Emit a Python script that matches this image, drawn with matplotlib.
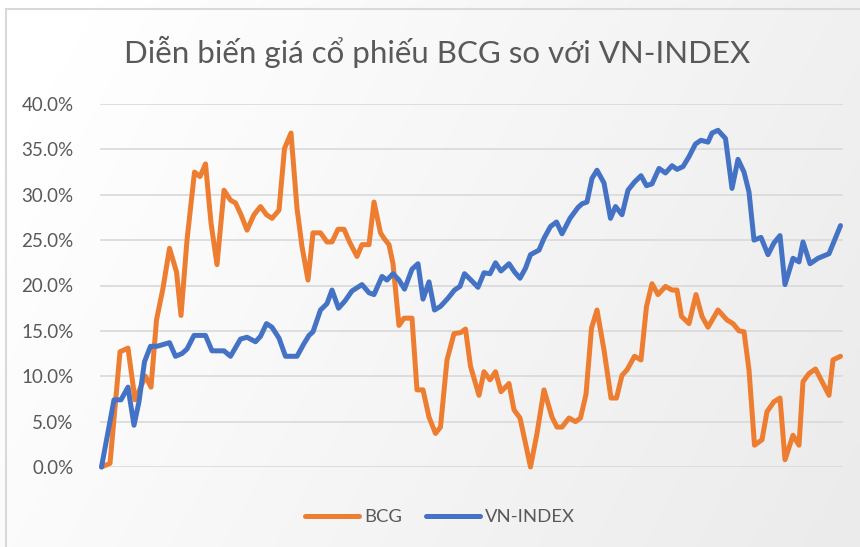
import numpy as np
import matplotlib
matplotlib.use('Agg')
import matplotlib.pyplot as plt
from matplotlib.ticker import PercentFormatter, MultipleLocator
from matplotlib.lines import Line2D

plt.rcParams['font.family'] = ['Lato', 'DejaVu Sans']

# week index vs. cumulative change (%)
bcg_week = [0, 1.7, 3.7, 5.3, 6.7, 8.8, 9.9, 11, 12.3, 13.6, 15, 15.9, 17.1, 18.6, 19.7,
            20.8, 21.9, 23.1, 24.5, 25.8, 26.8, 27.9, 29.1, 30.5, 31.8, 33, 34.1, 35.5,
            36.6, 37.9, 39.1, 40.1, 41.3, 42.3, 43.8, 45.1, 46.1, 47.3, 48.5, 49.6, 51.1,
            52.1, 53.5, 54.5, 55.8, 56.5, 57.5, 58.3, 59.5, 60.5, 62.1, 63.1, 64.3, 65.5,
            66.8, 67.8, 69.1, 70.5, 71.8, 72.8, 73.8, 75.5, 76.5, 77.7, 78.8, 79.9, 81.5,
            82.5, 83.7, 84.8, 85.8, 87.1, 88.5, 90.1, 91.1, 92.1, 93.5, 94.8, 95.8, 96.9,
            98.0, 99.1, 100.5, 101.9, 103, 104.1, 105.1, 106.6, 107.9, 109, 110.1, 111.3,
            112.8, 114.1, 115.1, 116, 117.5, 118.9, 120.1, 121.3, 123.3, 125.1, 126.3,
            127.5, 128.5, 129.5, 130.6, 132.1, 133.1, 134.5, 135.7, 136.7, 138.3, 139.5,
            140.3, 141.5, 142.8, 144.3, 145.5, 146.3, 147.8]
bcg_pct = [0, 0.4, 12.7, 13.1, 7.4, 10.0, 8.8, 16.2, 19.7, 24.1, 21.5, 16.7, 25.0, 32.5, 32.0,
           33.4, 26.9, 22.3, 30.5, 29.4, 29.1, 27.8, 26.1, 27.8, 28.7, 27.8, 27.4, 28.3,
           35.1, 36.8, 28.5, 24.3, 20.6, 25.8, 25.8, 24.8, 24.8, 26.2, 26.2, 24.8, 23.2,
           24.5, 24.5, 29.2, 25.8, 25.2, 24.5, 22.4, 15.6, 16.4, 16.4, 8.5, 8.5, 5.5,
           3.7, 4.4, 11.8, 14.7, 14.8, 15.2, 11.1, 7.9, 10.5, 9.6, 10.5, 8.3, 9.2,
           6.3, 5.4, 2.6, 0.0, 3.7, 8.5, 5.5, 4.4, 4.4, 5.4, 5.0, 5.4, 8.0,
           15.3, 17.3, 12.9, 7.6, 7.6, 10.1, 10.7, 12.2, 11.8, 17.7, 20.2, 19.0,
           19.9, 19.5, 19.5, 16.6, 15.8, 19.0, 16.6, 15.4, 17.3, 16.2, 15.8,
           15.0, 14.9, 10.7, 2.4, 3.0, 6.1, 7.2, 7.6, 0.8, 3.5, 2.4,
           9.4, 10.3, 10.8, 9.2, 7.9, 11.8, 12.2]

vni_week = [0, 2.5, 3.9, 5.3, 6.5, 7.5, 8.6, 9.8, 11.1, 13.6, 14.8, 16.1, 17.1, 18.5, 20.8,
            22.1, 24.5, 25.8, 27.8, 29.1, 30.8, 31.8, 33, 34.1, 35.5, 36.8, 39.1, 40.5,
            41.5, 42.3, 43.8, 45.1, 46.1, 47.4, 48.7, 50.1, 52.1, 53.5, 54.5, 56.1, 57.1,
            58.3, 59.5, 60.6, 62.1, 63.3, 64.3, 65.5, 66.6, 67.8, 69.3, 70.6, 71.7, 72.6,
            73.9, 75.3, 76.5, 77.7, 78.8, 79.9, 81.5, 82.6, 83.7, 84.8, 85.8, 87.5, 88.5,
            89.8, 91, 92.1, 93.7, 95.3, 96.1, 97.1, 98.1, 99.1, 100.5, 101.8, 102.8, 104.1,
            105.3, 106.6, 107.9, 109, 110.1, 111.5, 112.8, 114.1, 115.1, 116.3, 117.5,
            118.8, 119.9, 121.3, 122.1, 123.3, 124.8, 126.1, 127.3, 128.5, 129.5, 130.5,
            131.9, 133.3, 134.5, 135.7, 136.7, 138.3, 139.5, 140.3, 141.7, 143.3, 145.5,
            147.8]
vni_pct = [0, 7.4, 7.4, 8.8, 4.6, 7.2, 11.6, 13.3, 13.3, 13.7, 12.2, 12.5, 13.0, 14.5, 14.5,
           12.8, 12.8, 12.2, 14.1, 14.3, 13.8, 14.4, 15.8, 15.4, 14.2, 12.2, 12.2, 13.6,
           14.5, 14.9, 17.3, 18.0, 19.5, 17.5, 18.3, 19.4, 20.1, 19.2, 19.0, 21.0, 20.6,
           21.3, 20.6, 19.6, 21.8, 22.4, 18.5, 20.4, 17.3, 17.7, 18.6, 19.5, 19.9, 21.3,
           20.6, 19.8, 21.4, 21.3, 22.5, 21.6, 22.4, 21.5, 20.8, 21.9, 23.4, 23.9, 25.2,
           26.5, 27.0, 25.7, 27.4, 28.6, 29.0, 29.2, 31.8, 32.7, 31.3, 27.4, 28.7, 27.8,
           30.5, 31.4, 32.1, 31.0, 31.2, 32.9, 32.4, 33.2, 32.8, 33.1, 34.2,
           35.6, 36.0, 35.8, 36.8, 37.1, 36.2, 30.7, 33.9, 32.5, 30.3, 25.0,
           25.3, 23.4, 24.7, 25.5, 20.1, 23.0, 22.6, 24.8, 22.4, 23.0, 23.5,
           26.6]

W, H = 860, 547
fig = plt.figure(figsize=(W / 100, H / 100), dpi=100)

# soft gray gradient behind the chart
bg = fig.add_axes([0, 0, 1, 1], zorder=0)
gx, gy = np.meshgrid(np.linspace(0, 1, 256), np.linspace(0, 1, 256))
shade = 1.0 - 0.075 * np.clip(0.85 * gx + 0.3 * gy - 0.1, 0, 1)
bg.imshow(np.dstack([shade] * 3), extent=[0, 1, 0, 1], aspect='auto', origin='upper')
bg.axis('off')

# chart area border (top and left visible)
border = '#d9d9d9'
fig.add_artist(Line2D([6 / W, 6 / W], [0, 1 - 9 / H], color=border, lw=1.5))
fig.add_artist(Line2D([6 / W, 1], [1 - 9 / H, 1 - 9 / H], color=border, lw=1.5))

ax = fig.add_axes([100 / W, 1 - 467 / H, 743 / W, 363 / H], zorder=1)
ax.patch.set_alpha(0)

l1, = ax.plot(bcg_week, bcg_pct, color='#ED7D31', lw=3.6, solid_joinstyle='round',
              solid_capstyle='round', clip_on=False, zorder=3)
l2, = ax.plot(vni_week, vni_pct, color='#4472C4', lw=3.6, solid_joinstyle='round',
              solid_capstyle='round', clip_on=False, zorder=4)

ax.set_xlim(-0.3, 148.3)
ax.set_ylim(0, 40)
ax.yaxis.set_major_locator(MultipleLocator(5))
ax.yaxis.set_major_formatter(PercentFormatter(xmax=100, decimals=1))
ax.set_xticks([])
ax.grid(axis='y', color='#d9d9d9', lw=1.2)
ax.set_axisbelow(True)
for s in ax.spines.values():
    s.set_visible(False)
ax.tick_params(axis='y', length=0, pad=19, labelsize=13.5, labelcolor='#595959')

fig.text(437 / W, 1 - 52 / H, 'Diễn biến giá cổ phiếu BCG so với VN-INDEX',
         ha='center', va='center', fontsize=22.5, color='#595959')

fig.legend((l1, l2), ('BCG', 'VN-INDEX'), loc='center', ncol=2, frameon=False,
           bbox_to_anchor=(440 / W, 1 - 517 / H), fontsize=13.3, labelcolor='#595959',
           handlelength=2.9, handletextpad=0.3, columnspacing=1.3)

fig.savefig('out.png', dpi=100)
